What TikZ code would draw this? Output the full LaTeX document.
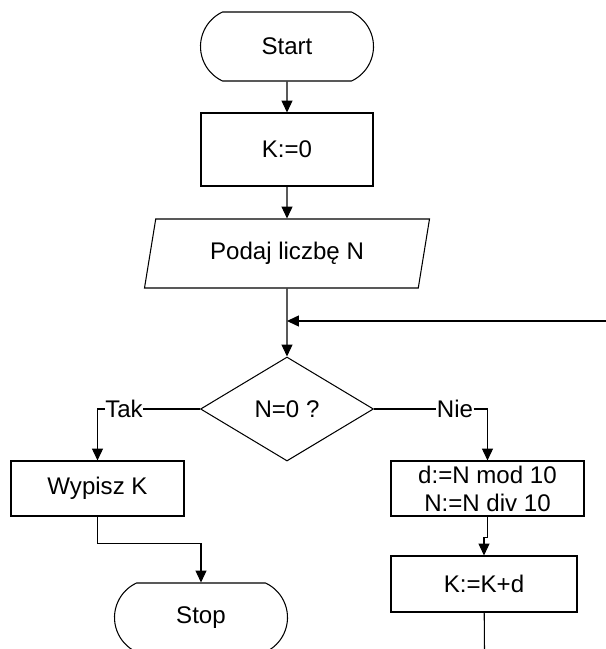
\documentclass[tikz,border=0pt]{standalone}
\usepackage{fontspec}
\setmainfont{Liberation Sans}
\usetikzlibrary{shapes.geometric,shapes.misc,arrows.meta}

\begin{document}
\begin{tikzpicture}[scale=0.2, line width=0.6pt]
\tikzstyle{every node}+=[inner sep=0pt, font=\fontsize{13.7}{16}\selectfont]
\tikzstyle{flow}=[-{Triangle[length=6.8pt,width=6.3pt]}]
\tikzstyle{term}=[draw, rounded rectangle, rounded rectangle arc length=130, minimum width=3.46cm, minimum height=1.38cm]
\tikzstyle{proc}=[draw, rectangle, minimum height=1.1cm]
\tikzstyle{io}=[draw, trapezium, trapezium left angle=63.43, trapezium right angle=116.57, trapezium stretches body, minimum width=5.7cm, minimum height=1.38cm]
\tikzstyle{cond}=[draw, diamond, minimum width=3.46cm, minimum height=2.08cm]
\useasboundingbox (0,0) rectangle (60.6,-64.9);
\node [term] (start) at (28.7,-4.65) {Start};
\node [proc, minimum width=3.44cm, minimum height=1.46cm] (init) at (28.7,-14.95) {K:=0};
\node [io] (input) at (28.7,-25.35) {Podaj liczbę N};
\coordinate (join) at (28.7,-32.1);
\coordinate (back) at (60.6,-32.1);
\node [cond] (test) at (28.7,-40.9) {N=0 ?};
\node (yes) at (12.4,-40.9) {Tak};
\node (no) at (45.5,-40.9) {Nie};
\node [proc, minimum width=3.46cm] (print) at (9.75,-48.85) {Wypisz K};
\node [proc, minimum width=3.86cm, align=center] (divide) at (48.75,-48.85) {d:=N mod 10\\N:=N div 10};
\node [proc, minimum width=3.72cm, minimum height=1.12cm] (add) at (48.4,-58.4) {K:=K+d};
\node [term] (stop) at (20.1,-61.75) {Stop};
\coordinate (out) at (48.45,-64.9);
\draw [flow] (start) -- (init);
\draw [flow] (init) -- (input);
\draw [flow] (input) -- (test);
\draw [flow] (back) -- (join);
\draw (test.west) -- (yes.east);
\draw [flow] (yes.west) -| (print.north);
\draw (test.east) -- (no.west);
\draw [flow] (no.east) -| (divide.north);
\draw [flow] (print.south) -- ++(0,-2.7) -| (stop.north);
\draw [flow] (divide.south) -- ++(0,-2.1) -| (add.north);
\draw (add) -- (out);
\end{tikzpicture}
\end{document}
